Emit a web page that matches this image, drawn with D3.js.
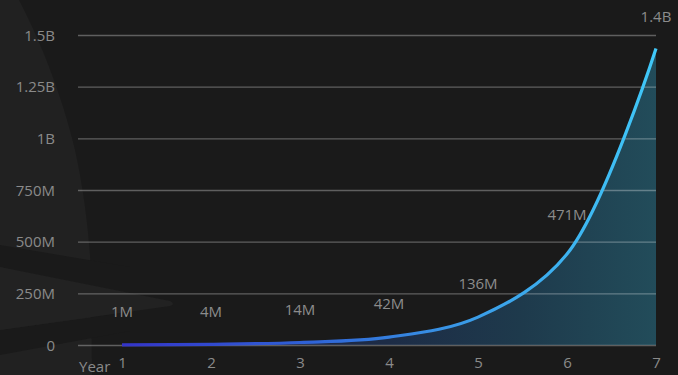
<!DOCTYPE html>
<html>
<head>
<meta charset="utf-8">
<script src="https://cdn.jsdelivr.net/npm/d3@7"></script>
<style>
  html, body { margin: 0; padding: 0; background: #1a1a1a; }
  svg { display: block; }
  text { font-family: "Open Sans", "Noto Sans", sans-serif; }
</style>
</head>
<body>
<svg id="chart" width="678" height="375"></svg>
<script>
// ---- data ----
const years = [1, 2, 3, 4, 5, 6, 7];
// values of the drawn curve at each year
const curveValues = [1e6, 3.5e6, 12e6, 38e6, 135e6, 440e6, 1.435e9];
// values printed as labels
const labelValues = [1e6, 4e6, 14e6, 42e6, 136e6, 471e6, 1.43e9];
const valueLabels = ["1M", "4M", "14M", "42M", "136M", "471M", "1.4B"];
const yTicks = [0, 250e6, 500e6, 750e6, 1e9, 1.25e9, 1.5e9];
const yTickLabels = ["0", "250M", "500M", "750M", "1B", "1.25B", "1.5B"];
const xAxisTitle = "Year";

// ---- layout ----
const W = 678, H = 375;
const gridLeft = 78, gridRight = 656;
const svg = d3.select("#chart");

const x = d3.scaleLinear().domain([1, 7]).range([122, 656]);
const y = d3.scaleLinear().domain([0, 1.5e9]).range([345, 35]);

// ---- background ----
svg.append("rect").attr("width", W).attr("height", H).attr("fill", "#1a1a1a");

const deco = svg.append("g");
deco.append("path")
  .attr("d", "M0,0 L19,0 C40,40 62,95 75,150 C84,190 89,235 91,270 L92,375 L0,375 Z")
  .attr("fill", "#212121");
deco.append("path").attr("d", "M0,245 L130,267 L130,297 L0,267 Z").attr("fill", "#1a1a1a");
deco.append("path").attr("d", "M0,330 L130,312 L130,331 L0,355 Z").attr("fill", "#1a1a1a");
deco.append("path")
  .attr("d", "M0,267 L170,301 Q176,304 170,306 L0,330 Z")
  .attr("fill", "#222222");

// ---- gradients ----
const defs = svg.append("defs");
const lg = defs.append("linearGradient").attr("id", "lineGrad")
  .attr("gradientUnits", "userSpaceOnUse")
  .attr("x1", x(1)).attr("x2", x(7)).attr("y1", 0).attr("y2", 0);
[[0, "#3434c8"], [0.35, "#2f62d6"], [0.65, "#3a9ce8"], [1, "#40c8f8"]]
  .forEach(([o, c]) => lg.append("stop").attr("offset", o).attr("stop-color", c));

const ag = defs.append("linearGradient").attr("id", "areaGrad")
  .attr("gradientUnits", "userSpaceOnUse")
  .attr("x1", x(1)).attr("x2", x(7)).attr("y1", 0).attr("y2", 0);
[[0, "#1d1f4a"], [0.5, "#1d2c46"], [0.75, "#1e3a4c"], [1, "#224c5a"]]
  .forEach(([o, c]) => ag.append("stop").attr("offset", o).attr("stop-color", c));

const data = years.map((yr, i) => ({ yr, v: curveValues[i], lv: labelValues[i], label: valueLabels[i] }));
const curve = d3.curveCatmullRom.alpha(0.5);

// ---- area ----
const area = d3.area().x(d => x(d.yr)).y0(y(0)).y1(d => y(d.v)).curve(curve);
svg.append("path").datum(data).attr("d", area).attr("fill", "url(#areaGrad)");

// ---- gridlines + y axis ----
const yAxis = d3.axisLeft(y)
  .tickValues(yTicks)
  .tickSize(-(gridRight - gridLeft))
  .tickPadding(23)
  .tickFormat((d, i) => yTickLabels[i]);
const gy = svg.append("g").attr("transform", `translate(${gridLeft},0)`).call(yAxis);
gy.select(".domain").remove();
gy.selectAll(".tick line").attr("stroke", "#ffffff").attr("stroke-opacity", 0.3).attr("stroke-width", 1.3);
gy.selectAll(".tick text").attr("fill", "#8a8a8a").attr("font-size", 15)
  .attr("font-family", "'Open Sans', sans-serif").attr("dy", "0.34em");

// ---- x axis ----
const xAxis = d3.axisBottom(x).tickValues(years).tickSize(0).tickPadding(12).tickFormat(d3.format("d"));
const gx = svg.append("g").attr("transform", `translate(0,${y(0)})`).call(xAxis);
gx.select(".domain").remove();
gx.selectAll(".tick text").attr("fill", "#8a8a8a").attr("font-size", 15)
  .attr("font-family", "'Open Sans', sans-serif");

svg.append("text").attr("x", gridLeft + 1).attr("y", 372)
  .attr("fill", "#8a8a8a").attr("font-size", 15).text(xAxisTitle);

// ---- line ----
const line = d3.line().x(d => x(d.yr)).y(d => y(d.v)).curve(curve);
svg.append("path").datum(data).attr("d", line)
  .attr("fill", "none").attr("stroke", "url(#lineGrad)").attr("stroke-width", 3.2);

// ---- value labels ----
svg.append("g").selectAll("text").data(data).join("text")
  .attr("x", d => x(d.yr))
  .attr("y", d => y(d.lv) - 27.5)
  .attr("text-anchor", "middle")
  .attr("fill", "#8c8c8c").attr("font-size", 15)
  .text(d => d.label);
</script>
</body>
</html>
